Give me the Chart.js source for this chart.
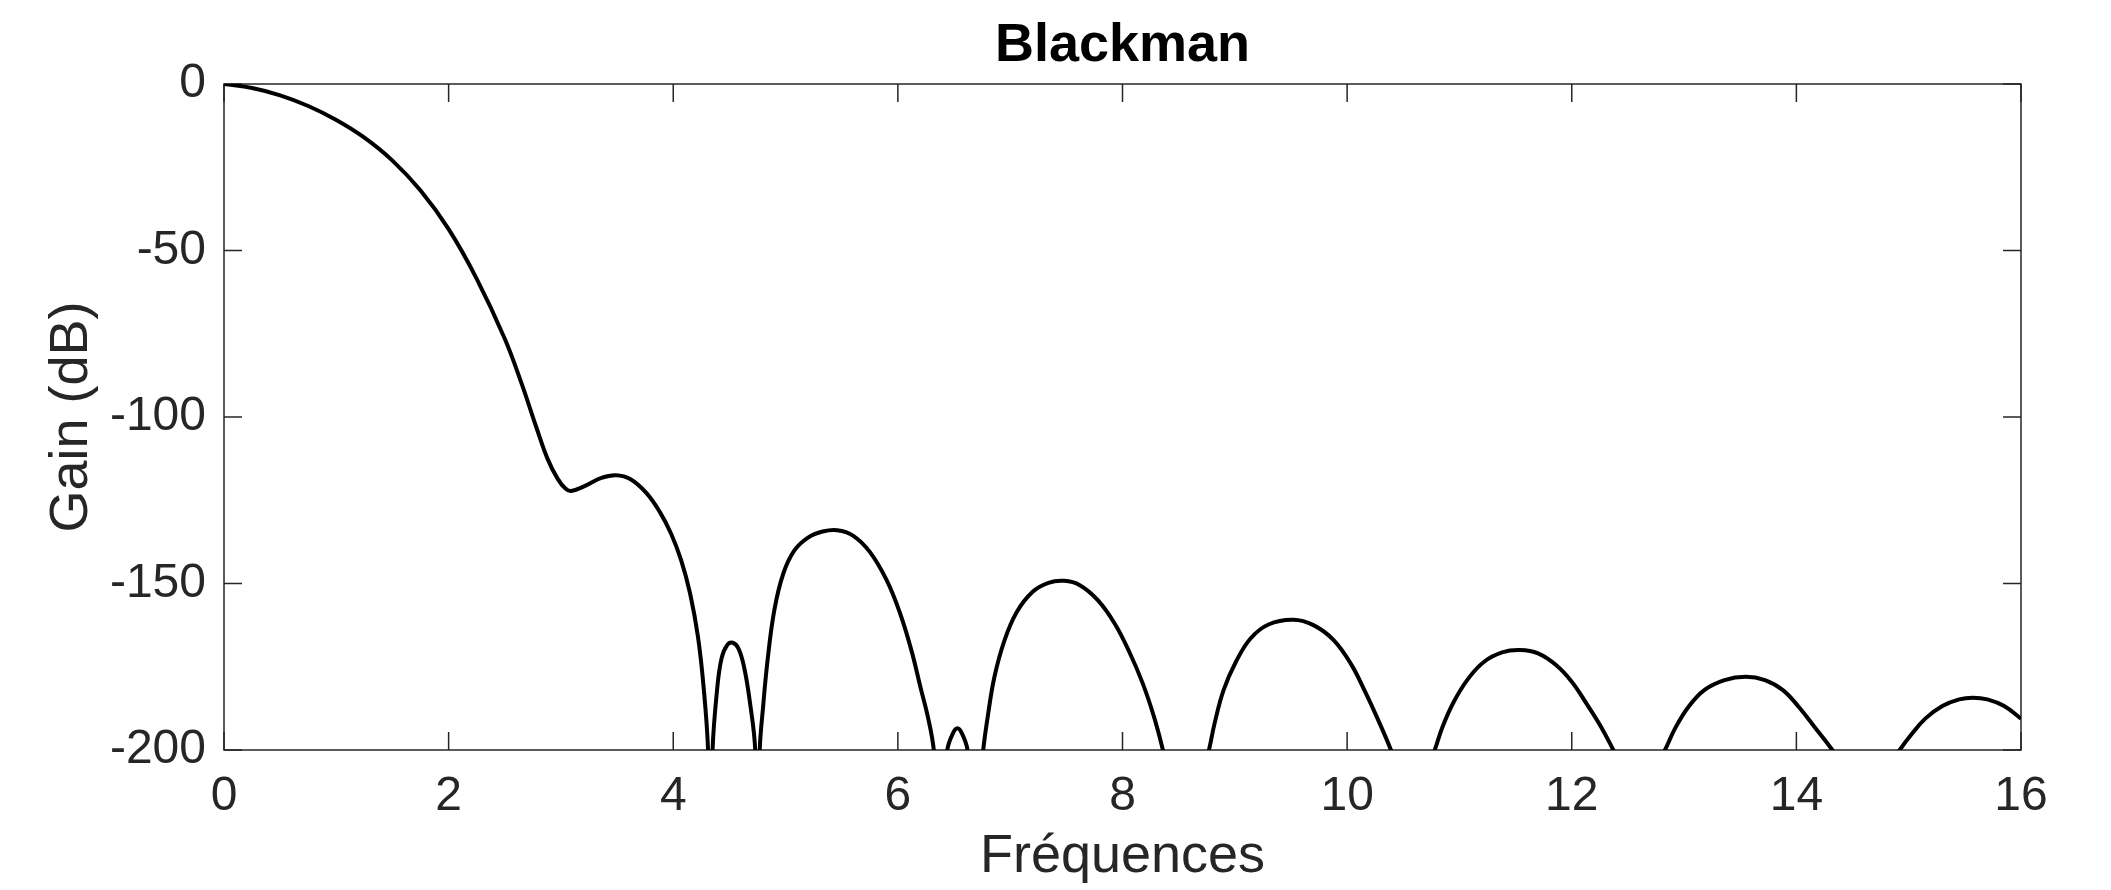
<!DOCTYPE html>
<html>
<head>
<meta charset="utf-8">
<title>Blackman</title>
<script src="https://cdn.jsdelivr.net/npm/chart.js@4.4.1/dist/chart.umd.min.js"></script>
<style>
    html, body { margin: 0; padding: 0; background: #fff; }
    #wrap { width: 2111px; height: 890px; position: relative; }
</style>
</head>
<body>
<div id="wrap"><canvas id="gainChart"></canvas></div>
<script>
// Values (frequency in bins, gain in dB)
// Points below -200 sit in the nulls and get clipped by the chart area
const freq = [
    // main lobe and first shoulder
    0, 0.25, 0.5, 0.75, 1.0, 1.25, 1.5, 1.75, 2.0, 2.25, 2.5, 2.65, 2.78, 2.88, 2.97, 3.04, 3.09, 3.22, 3.36, 3.49, 3.62, 3.76, 3.88, 3.98, 4.07, 4.15, 4.22, 4.27, 4.31,
    4.33,
    4.35, 4.39, 4.43, 4.48, 4.53, 4.58, 4.63, 4.68, 4.73,
    4.75,
    4.77, 4.8, 4.84, 4.9, 4.98, 5.08, 5.2, 5.33, 5.46, 5.6, 5.75, 5.9, 6.02, 6.12, 6.2, 6.27, 6.32,
    6.38,
    6.44, 6.49, 6.53, 6.57, 6.62,
    6.69,
    6.76, 6.8, 6.86, 6.95, 7.06, 7.2, 7.34, 7.48, 7.62, 7.78, 7.93, 8.06, 8.18, 8.28, 8.36,
    8.565,
    8.77, 8.82, 8.9, 9.01, 9.14, 9.3, 9.52, 9.7, 9.88, 10.04, 10.16, 10.27, 10.39,
    10.585,
    10.78, 10.85, 10.95, 11.08, 11.22, 11.38, 11.54, 11.7, 11.86, 12.0, 12.13, 12.26, 12.37,
    12.6,
    12.83, 12.92, 13.04, 13.18, 13.36, 13.55, 13.72, 13.88, 14.02, 14.16, 14.32,
    14.62,
    14.92, 15.02, 15.15, 15.3, 15.45, 15.57, 15.7, 15.85, 16.0
];
const gain = [
    0, -1.2, -3.4, -6.6, -10.8, -16.1, -23, -32, -43.6, -58.5, -76.5, -90, -103, -112.5, -118.5, -121.5, -122.2, -120.6, -118.3, -117.5, -118.7, -122.8, -128.5, -135, -143, -153, -166, -181, -200,
    -235,
    -200, -182, -172.5, -168.5, -167.8, -169.5, -175, -185, -200,
    -235,
    -200, -187, -173, -158, -147, -140, -136.2, -134.4, -134, -135.6, -140.5, -149, -159, -170, -181, -190.5, -200,
    -225,
    -200, -195, -193.5, -195, -200,
    -225,
    -200, -190, -178, -167, -158.5, -152.5, -149.8, -149.2, -150.5, -155, -162, -170.5, -180, -190, -200,
    -228,
    -200, -192, -182, -173.5, -166.5, -162.3, -160.9, -162.5, -167, -174.5, -182.5, -190.5, -200,
    -218,
    -200, -193, -185.5, -178.5, -173.5, -170.7, -170, -171, -174.5, -179.5, -186, -193, -200,
    -215,
    -200, -193.5, -187, -182, -179, -178, -179, -182, -187, -193, -200,
    -215,
    -200, -195.5, -190.5, -186.8, -184.8, -184.3, -184.8, -186.8, -190.6
];
const xTicks = [0, 2, 4, 6, 8, 10, 12, 14, 16];
const yTicks = [-200, -150, -100, -50, 0];

const FONT = "'Liberation Sans', Arial, Helvetica, sans-serif";
const AXIS_COLOR = '#262626';
const TICK_LEN = 18;

// Box around the plot with inward ticks on all four sides
const boxPlugin = {
    id: 'boxAxes',
    beforeDatasetsDraw(chart) {
        const { ctx, chartArea: a, scales: { x, y } } = chart;
        ctx.save();
        ctx.strokeStyle = AXIS_COLOR;
        ctx.lineWidth = 1.5;
        ctx.strokeRect(a.left, a.top, a.right - a.left, a.bottom - a.top);
        ctx.beginPath();
        xTicks.forEach(v => {
            const px = x.getPixelForValue(v);
            ctx.moveTo(px, a.bottom);
            ctx.lineTo(px, a.bottom - TICK_LEN);
            ctx.moveTo(px, a.top);
            ctx.lineTo(px, a.top + TICK_LEN);
        });
        yTicks.forEach(v => {
            const py = y.getPixelForValue(v);
            ctx.moveTo(a.left, py);
            ctx.lineTo(a.left + TICK_LEN, py);
            ctx.moveTo(a.right, py);
            ctx.lineTo(a.right - TICK_LEN, py);
        });
        ctx.stroke();
        ctx.restore();
    }
};

document.addEventListener('DOMContentLoaded', function() {
    const ctx = document.getElementById('gainChart').getContext('2d');

    new Chart(ctx, {
        type: 'line',
        data: {
            datasets: [{
                label: 'Blackman',
                data: freq.map((f, i) => ({ x: f, y: gain[i] })),
                borderColor: '#000000',
                borderWidth: 4,
                pointRadius: 0,
                fill: false,
                tension: 0.4,
                clip: 0
            }]
        },
        options: {
            responsive: true,
            maintainAspectRatio: false,
            animation: false,
            layout: {
                padding: { left: 0, right: 90, top: 0, bottom: 0 }
            },
            plugins: {
                legend: { display: false },
                tooltip: { enabled: false },
                title: {
                    display: true,
                    text: 'Blackman',
                    fullSize: false,
                    color: '#000000',
                    font: { family: FONT, size: 54, weight: 'bold', lineHeight: 1.2 },
                    padding: { top: 14, bottom: 5.2 }
                }
            },
            scales: {
                x: {
                    type: 'linear',
                    min: 0,
                    max: 16,
                    afterBuildTicks: scale => {
                        scale.ticks = xTicks.map(v => ({ value: v }));
                    },
                    afterFit: scale => { scale.height = 140; },
                    ticks: {
                        color: AXIS_COLOR,
                        padding: 18,
                        maxRotation: 0,
                        autoSkip: false,
                        font: { family: FONT, size: 48 }
                    },
                    grid: { display: false, drawTicks: false },
                    border: { display: false },
                    title: {
                        display: true,
                        text: 'Fréquences',
                        color: AXIS_COLOR,
                        font: { family: FONT, size: 54, lineHeight: 1.2 },
                        padding: { top: 0, bottom: 0 }
                    }
                },
                y: {
                    min: -200,
                    max: 0,
                    afterBuildTicks: scale => {
                        scale.ticks = yTicks.map(v => ({ value: v }));
                    },
                    afterFit: scale => { scale.width = 224; },
                    ticks: {
                        color: AXIS_COLOR,
                        padding: 18,
                        font: { family: FONT, size: 48 }
                    },
                    grid: { display: false, drawTicks: false },
                    border: { display: false },
                    title: {
                        display: true,
                        text: 'Gain (dB)',
                        color: AXIS_COLOR,
                        font: { family: FONT, size: 54, lineHeight: 1.2 },
                        padding: { top: 40, bottom: 0 }
                    }
                }
            }
        },
        plugins: [boxPlugin]
    });
});
</script>
</body>
</html>
